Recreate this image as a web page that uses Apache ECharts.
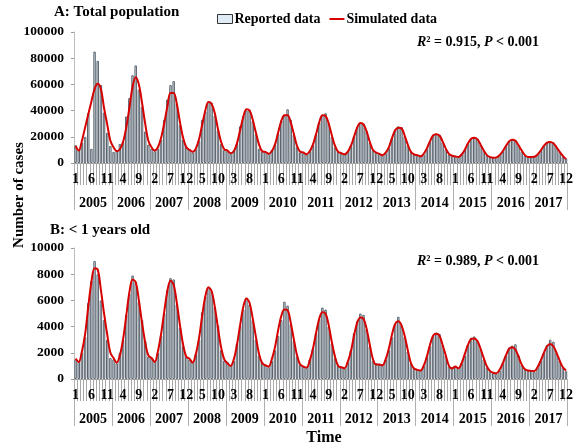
<!DOCTYPE html>
<html>
<head>
<meta charset="utf-8">
<script src="https://cdn.jsdelivr.net/npm/echarts@6/dist/echarts.min.js"></script>
<style>
  html, body { margin: 0; padding: 0; background: #fff; }
  #chart { width: 576px; height: 446px; }
</style>
</head>
<body>
<div id="chart"></div>
<script>
// Monthly reported case counts, 2005-2017, with the fitted model curve.
var years = ['2005','2006','2007','2008','2009','2010','2011','2012','2013','2014','2015','2016','2017'];
var monthNames = ['1','2','3','4','5','6','7','8','9','10','11','12'];

// Panel A: total population
var totalReported = [
  13500, 10000, 15500, 20000, 38000, 10800, 85000, 78000, 59500, 38500, 23000, 13000,
  8500, 9500, 14500, 16000, 35500, 49500, 67000, 74500, 56000, 43000, 24000, 14000,
  11000, 9000, 11000, 18000, 33000, 48500, 59500, 62500, 45500, 29000, 18000, 12500,
  10500, 8000, 10500, 17000, 33000, 39500, 47000, 46000, 36000, 25000, 14500, 10000,
  9000, 7000, 9500, 14500, 28000, 36000, 40000, 40500, 32000, 22000, 11000, 8500,
  8500, 7000, 9500, 14000, 22500, 32500, 36000, 41000, 33000, 21500, 12500, 8000,
  7500, 6500, 9000, 13500, 22000, 31000, 36500, 38000, 30500, 20000, 12000, 8500,
  7000, 6500, 8500, 13000, 20500, 27500, 30500, 30000, 24500, 15500, 10000, 8000,
  7500, 5500, 7500, 11500, 19000, 25500, 28000, 27500, 20500, 13500, 8500, 6500,
  5500, 5000, 6500, 10500, 16500, 21500, 22500, 21500, 16000, 10500, 6500, 5500,
  5500, 4500, 6500, 10000, 15000, 18500, 19500, 18500, 14000, 9500, 6000, 4500,
  4000, 4500, 6000, 9000, 13000, 16500, 18000, 17500, 13500, 9000, 6000, 4500,
  4500, 5000, 6500, 9500, 13000, 15500, 16500, 15500, 12000, 8500, 5000, 3500
];
var totalSimulated = [
  13000, 9500, 17000, 27000, 37000, 47000, 56500, 60500, 56500, 42000, 29500, 17000,
  12000, 9000, 10500, 16000, 27000, 42000, 58000, 65500, 60000, 46000, 30000, 17000,
  12000, 9500, 12000, 19000, 30000, 43000, 53500, 53500, 45000, 31000, 19000, 12000,
  10000, 8500, 11000, 18000, 29000, 40000, 46500, 45000, 38000, 26000, 16000, 10500,
  9500, 7500, 9000, 15000, 25000, 35000, 41000, 40000, 33000, 23000, 14000, 9000,
  8500, 7000, 9000, 14000, 23000, 32000, 36500, 36500, 31000, 22000, 13000, 8500,
  8000, 6600, 9000, 14000, 22000, 31000, 36500, 36000, 30000, 21000, 13000, 8500,
  7500, 6600, 8500, 13000, 20000, 27000, 30500, 29500, 24000, 16000, 10000, 8000,
  7000, 6000, 8000, 12000, 19000, 25000, 27000, 26500, 21000, 14000, 8500, 6500,
  6000, 5100, 7000, 11000, 16500, 21000, 22000, 21000, 16500, 11000, 7000, 5500,
  5000, 4600, 6500, 10000, 15000, 18500, 19300, 18000, 14000, 9500, 6000, 4500,
  4100, 4300, 6000, 9000, 13000, 16500, 17800, 17000, 13500, 9500, 6000, 4600,
  4600, 4700, 6500, 9500, 13000, 15500, 16000, 15000, 12000, 8500, 5500, 3000
];

// Panel B: children under 1 year
var infantReported = [
  1500, 1300, 2000, 3200, 5800, 7500, 9000, 8000, 6000, 4500, 3000, 1600,
  1500, 1200, 2000, 3000, 4900, 6500, 7900, 7400, 5900, 4500, 2900, 1700,
  1600, 1300, 2000, 3300, 5000, 6800, 7700, 7600, 5700, 3900, 2500, 1700,
  1500, 1300, 1900, 3000, 5100, 6300, 7000, 6700, 5500, 4100, 2200, 1400,
  1300, 1000, 1400, 2700, 4100, 5300, 6200, 5700, 4500, 3000, 1800, 1300,
  1100, 900, 1400, 2200, 3300, 4500, 5900, 5600, 4200, 2900, 1700, 1100,
  950, 850, 1500, 2300, 3500, 4600, 5450, 5300, 4000, 2700, 1600, 1000,
  900, 800, 1300, 2200, 3500, 4400, 5000, 4900, 3800, 2500, 1400, 1200,
  1100, 1000, 1500, 2200, 3200, 4200, 4750, 4100, 3200, 2100, 1200, 800,
  700, 650, 1000, 1700, 2500, 3300, 3550, 3450, 2600, 1800, 1000, 900,
  950, 850, 1200, 1800, 2600, 3150, 3250, 2900, 2300, 1500, 900, 600,
  450, 400, 650, 1200, 1800, 2400, 2550, 2650, 1800, 1100, 800, 650,
  600, 550, 900, 1400, 2000, 2600, 3000, 2850, 2000, 1400, 900, 600
];
var infantSimulated = [
  1550, 1300, 2100, 3400, 5500, 7400, 8450, 8350, 6800, 5000, 3400, 2000,
  1600, 1250, 1800, 3000, 4800, 6600, 7600, 7400, 6000, 4300, 2800, 1800,
  1600, 1300, 2100, 3400, 5100, 6700, 7500, 7200, 5800, 4100, 2600, 1700,
  1550, 1250, 1900, 3100, 4800, 6300, 7000, 6700, 5500, 3900, 2400, 1500,
  1200, 1000, 1500, 2600, 4100, 5500, 6150, 5800, 4600, 3200, 1900, 1200,
  1050, 950, 1500, 2400, 3700, 4800, 5300, 5250, 4300, 3000, 1800, 1100,
  950, 870, 1400, 2300, 3500, 4600, 5100, 5000, 4100, 2800, 1700, 1000,
  900, 820, 1300, 2100, 3300, 4300, 4700, 4600, 3800, 2600, 1500, 1100,
  1100, 1050, 1500, 2300, 3400, 4200, 4400, 4100, 3300, 2200, 1200, 800,
  700, 640, 1000, 1700, 2600, 3300, 3450, 3300, 2600, 1800, 1000, 800,
  950, 820, 1200, 1900, 2600, 3050, 3100, 2900, 2300, 1600, 950, 600,
  480, 430, 700, 1200, 1800, 2300, 2420, 2250, 1700, 1100, 750, 650,
  620, 610, 900, 1400, 2000, 2500, 2680, 2500, 2000, 1400, 900, 650
];

// one category per month, "year-month"
var monthCategories = [];
years.forEach(function (y) {
  monthNames.forEach(function (m) { monthCategories.push(y + '-' + m); });
});

var FONT = '"Liberation Serif", "Times New Roman", serif';
var BAR_FILL = '#e0ebf5';
var BAR_EDGE = '#5a636c';
var LINE_RED = '#d60000';

function monthAxis(gridIndex) {
  return {
    type: 'category', gridIndex: gridIndex, position: 'bottom',
    data: monthCategories, boundaryGap: true,
    axisLine: { show: true, lineStyle: { color: '#a0a0a0', width: 1 } },
    axisTick: { show: true, interval: 0, length: 22, lineStyle: { color: '#a8a8a8', width: 1 } },
    axisLabel: {
      interval: function (i) { return i % 5 === 0; },
      formatter: function (v) { return v.split('-')[1]; },
      margin: 9, color: '#000', fontFamily: FONT, fontWeight: 'bold', fontSize: 14,
      hideOverlap: false
    },
    splitLine: { show: false }
  };
}
function yearAxis(gridIndex) {
  return {
    type: 'category', gridIndex: gridIndex, position: 'bottom',
    data: years, boundaryGap: true,
    axisLine: { show: false },
    axisTick: { show: true, interval: 0, length: 47, lineStyle: { color: '#b0b0b0', width: 1 } },
    axisLabel: { interval: 0, margin: 33, color: '#000', fontFamily: FONT, fontWeight: 'bold', fontSize: 14 },
    splitLine: { show: false }
  };
}
function valueAxis(gridIndex, max, interval) {
  return {
    type: 'value', gridIndex: gridIndex, min: 0, max: max, interval: interval,
    axisLine: { show: true, lineStyle: { color: '#bdbdbd', width: 1 } },
    axisTick: { show: true, length: 3, lineStyle: { color: '#9a9a9a' } },
    axisLabel: {
      margin: 10, color: '#000', fontFamily: FONT, fontWeight: 'bold', fontSize: 13.5,
      formatter: function (v) { return String(v); }
    },
    splitLine: { show: false }
  };
}
function barSeries(name, data, axisIdx) {
  return {
    name: name, type: 'bar', data: data,
    xAxisIndex: axisIdx.x, yAxisIndex: axisIdx.y,
    barCategoryGap: '22%',
    itemStyle: { color: BAR_FILL, borderColor: BAR_EDGE, borderWidth: 1 },
    emphasis: { disabled: true }, animation: false
  };
}
function lineSeries(name, data, axisIdx) {
  return {
    name: name, type: 'line', data: data,
    xAxisIndex: axisIdx.x, yAxisIndex: axisIdx.y,
    smooth: 0.35, symbol: 'none', z: 5,
    lineStyle: { color: LINE_RED, width: 2 },
    itemStyle: { color: LINE_RED },
    emphasis: { disabled: true }, animation: false
  };
}

var statsRich = {
  it: { fontFamily: FONT, fontStyle: 'italic', fontWeight: 'bold', fontSize: 14, fill: '#000' },
  n: { fontFamily: FONT, fontWeight: 'bold', fontSize: 14, fill: '#000' }
};

var chart = echarts.init(document.getElementById('chart'), null, { renderer: 'canvas' });
chart.setOption({
  animation: false,
  backgroundColor: '#fff',
  grid: [
    { left: 74, top: 32, width: 497, height: 131 },
    { left: 74, top: 248, width: 497, height: 131 }
  ],
  xAxis: [monthAxis(0), yearAxis(0), monthAxis(1), yearAxis(1)],
  yAxis: [valueAxis(0, 100000, 20000), valueAxis(1, 10000, 2000)],
  legend: {
    left: 212, top: 7, itemWidth: 15, itemHeight: 9, itemGap: 9,
    selectedMode: false,
    textStyle: { fontFamily: FONT, fontWeight: 'bold', fontSize: 14, color: '#000', padding: [0, 0, 0, -3] },
    data: [
      { name: 'Reported data', icon: 'rect', itemStyle: { color: BAR_FILL, borderColor: '#333', borderWidth: 1 } },
      { name: 'Simulated data', icon: 'path://M0,0 M15,9 M0,3.5 L15,3.5 L15,5.5 L0,5.5 Z',
        itemStyle: { color: LINE_RED, borderWidth: 0 } }
    ]
  },
  series: [
    barSeries('Reported data', totalReported, { x: 0, y: 0 }),
    lineSeries('Simulated data', totalSimulated, { x: 0, y: 0 }),
    barSeries('Reported data', infantReported, { x: 2, y: 1 }),
    lineSeries('Simulated data', infantSimulated, { x: 2, y: 1 })
  ],
  graphic: [
    { type: 'text', left: 54, top: 5,
      style: { text: 'A: Total population', font: 'bold 15px ' + FONT, fill: '#000' } },
    { type: 'text', left: 50, top: 223,
      style: { text: 'B: < 1 years old', font: 'bold 15px ' + FONT, fill: '#000' } },
    { type: 'text', left: 417, top: 35,
      style: { text: '{it|R}{n|² = 0.915, }{it|P}{n| < 0.001}', rich: statsRich } },
    { type: 'text', left: 417, top: 254,
      style: { text: '{it|R}{n|² = 0.989, }{it|P}{n| < 0.001}', rich: statsRich } },
    { type: 'text', x: 19, y: 195, rotation: Math.PI / 2,
      style: { text: 'Number of cases', font: 'bold 15px ' + FONT, fill: '#000',
               align: 'center', verticalAlign: 'middle' } },
    { type: 'text', x: 324, y: 438,
      style: { text: 'Time', font: 'bold 16px ' + FONT, fill: '#000',
               align: 'center', verticalAlign: 'middle' } }
  ]
});
</script>
</body>
</html>
